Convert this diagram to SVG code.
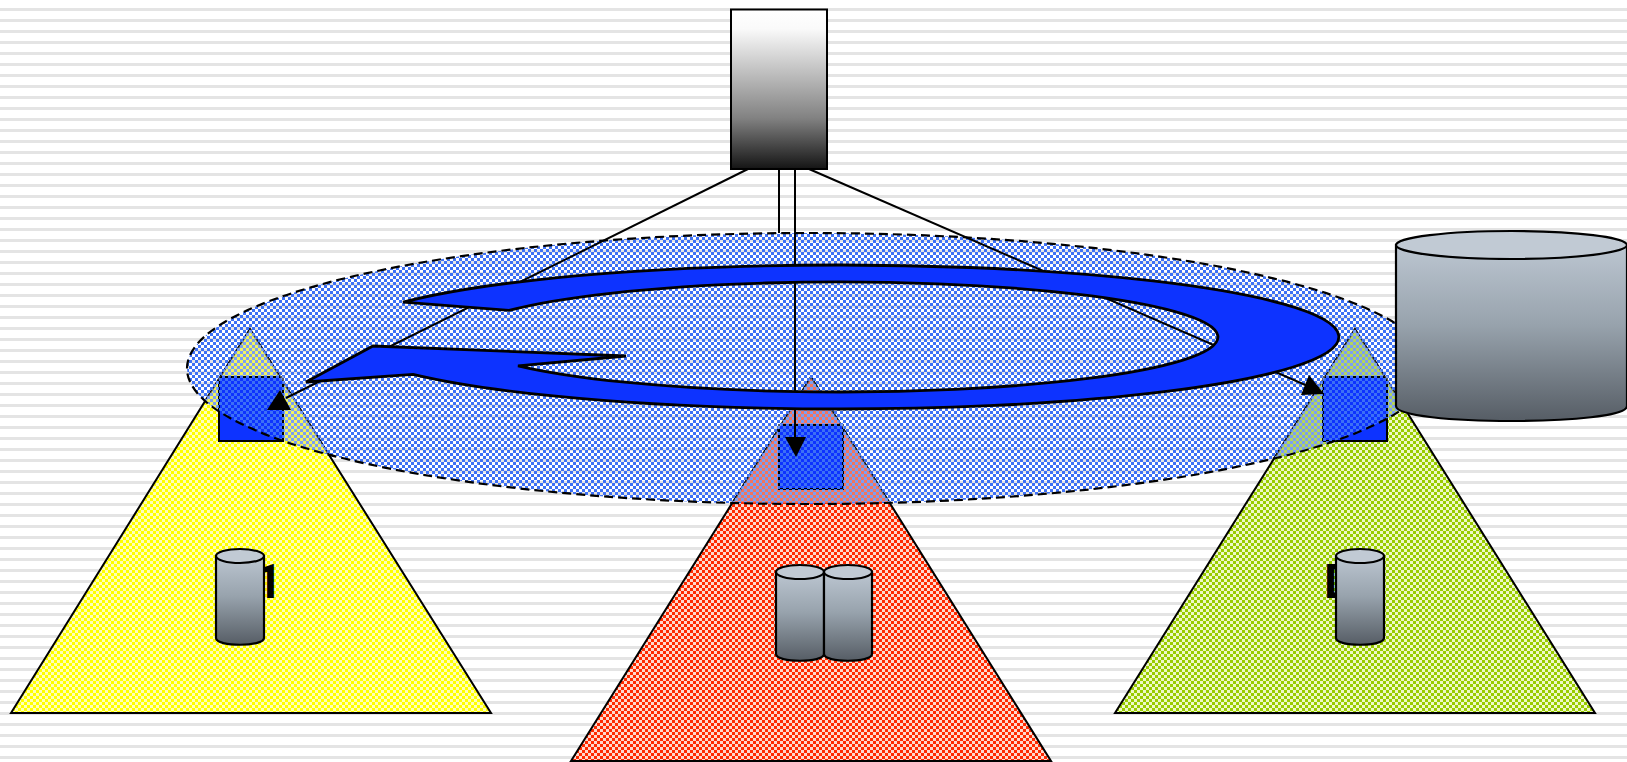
<svg xmlns="http://www.w3.org/2000/svg" width="1627" height="762" viewBox="0 0 1627 762">
<style>
.o{stroke:#000;stroke-width:2;stroke-linejoin:miter}
.cyl{stroke:#000;stroke-width:2.2;fill:url(#cg)}
.cap{stroke:#000;stroke-width:2.2;fill:#c1cad4}
.c{stroke:#000;stroke-width:2;fill:none}
.h{fill:#000;stroke:none}
.v{fill:#dbe3ee;fill-opacity:.4;clip-path:url(#inEllipse);fill-rule:evenodd}
.t{font-family:Roboto,"Liberation Sans",Arial,sans-serif;font-weight:700;font-size:48px;fill:#000}
</style>
<defs>
<clipPath id="inEllipse"><ellipse cx="809" cy="368.5" rx="621" ry="134.5"/></clipPath>
<pattern id="stripes" patternUnits="userSpaceOnUse" width="11" height="11" y="8"><rect width="11" height="3" fill="#e4e4e4"/></pattern>
<pattern id="py" patternUnits="userSpaceOnUse" width="6" height="6"><rect width="6" height="6" fill="#ffffb8"/><rect width="3" height="3" fill="#ffff00"/><rect x="3" y="3" width="3" height="3" fill="#ffff00"/></pattern>
<pattern id="pr" patternUnits="userSpaceOnUse" width="6" height="6"><rect width="6" height="6" fill="#ffd8cc"/><rect width="3" height="3" fill="#ff2a00"/><rect x="3" y="3" width="3" height="3" fill="#ff2a00"/></pattern>
<pattern id="pg" patternUnits="userSpaceOnUse" width="6" height="6"><rect width="6" height="6" fill="#eef8c8"/><rect width="3" height="3" fill="#99cc00"/><rect x="3" y="3" width="3" height="3" fill="#99cc00"/></pattern>
<pattern id="pb" patternUnits="userSpaceOnUse" width="6" height="6"><rect x="3" width="3" height="3" fill="#3d70f5"/><rect y="3" width="3" height="3" fill="#3d70f5"/></pattern>
<linearGradient id="rg" x1="0" y1="0" x2="0" y2="1"><stop offset="0" stop-color="#fff"/><stop offset=".12" stop-color="#fafafa"/><stop offset=".68" stop-color="#828282"/><stop offset="1" stop-color="#141414"/></linearGradient>
<linearGradient id="cg" x1="0" y1="0" x2="0" y2="1"><stop offset="0" stop-color="#bcc6d1"/><stop offset=".45" stop-color="#98a3ad"/><stop offset="1" stop-color="#565d65"/></linearGradient>
</defs>
<rect id="background" width="1627" height="762" fill="#fff"/>
<rect id="lines" width="1627" height="762" fill="url(#stripes)"/>
<g id="site1">
<path class="o" fill="url(#py)" d="M250,329 L491,713 L11,713 Z"/>
<text class="t" x="255" y="598">1</text>
<path class="cyl" d="M216,556 V638 C216,647 264,647 264,638 V556 Z"/>
<ellipse class="cap" cx="240" cy="556" rx="24" ry="7"/>
<rect class="o" x="219" y="377" width="64" height="64" fill="#0d33ff"/>
</g>
<g id="site2">
<path class="o" fill="url(#pr)" d="M811,377 L1051,761 L571,761 Z"/>
<path class="cyl" d="M776,572 V654 C776,663 824,663 824,654 V572 Z"/>
<ellipse class="cap" cx="800" cy="572" rx="24" ry="7"/>
<path class="cyl" d="M824,572 V654 C824,663 872,663 872,654 V572 Z"/>
<ellipse class="cap" cx="848" cy="572" rx="24" ry="7"/>
<rect class="o" x="779" y="425" width="64" height="64" fill="#0d33ff"/>
</g>
<g id="site3">
<path class="o" fill="url(#pg)" d="M1355,329 L1595,713 L1115,713 Z"/>
<text class="t" x="1324" y="598">D</text>
<path class="cyl" d="M1336,556 V638 C1336,647 1384,647 1384,638 V556 Z"/>
<ellipse class="cap" cx="1360" cy="556" rx="24" ry="7"/>
<rect class="o" x="1323" y="377" width="64" height="64" fill="#0d33ff"/>
</g>
<g id="network">
<ellipse cx="809" cy="368.5" rx="622" ry="135.5" fill="url(#pb)" stroke="#000" stroke-width="2.2" stroke-dasharray="9 5"/>
<path class="v" d="M250,329 L491,713 L11,713 Z M218,376 V442 H284 V376 Z"/>
<path class="v" d="M811,377 L1051,761 L571,761 Z M778,424 V490 H844 V424 Z"/>
<path class="v" d="M1355,329 L1595,713 L1115,713 Z M1322,376 V442 H1388 V376 Z"/>
</g>
<g id="connectors">
<path class="c" d="M748,169 L286,398"/>
<polygon class="h" points="280,390 291,410 267,410"/>
<path class="c" d="M779,169 V233"/>
<path class="c" d="M795,169 V440"/>
<polygon class="h" points="785,437 806,437 796,457"/>
<path class="c" d="M809,169 L1310,387"/>
<polygon class="h" points="1309,375 1324,394 1301,395"/>
</g>
<g id="ring">
<path d="M403,302.2 L509,310.4 A378,55 0 1 1 518,365.8 L626,356 L373,346 L306,382 L413,374.3 A499,72 0 1 0 403,302.2 Z" fill="#0d33ff" stroke="#000" stroke-width="2.8" stroke-linejoin="miter"/>
</g>
<g id="controller">
<rect class="o" x="731" y="9.5" width="96" height="159.5" fill="url(#rg)"/>
</g>
<g id="storage">
<path class="cyl" d="M1396,245 V406 C1396,426 1627,426 1627,406 V245 Z"/>
<ellipse class="cap" cx="1511.5" cy="245" rx="115.5" ry="14"/>
</g>
</svg>
